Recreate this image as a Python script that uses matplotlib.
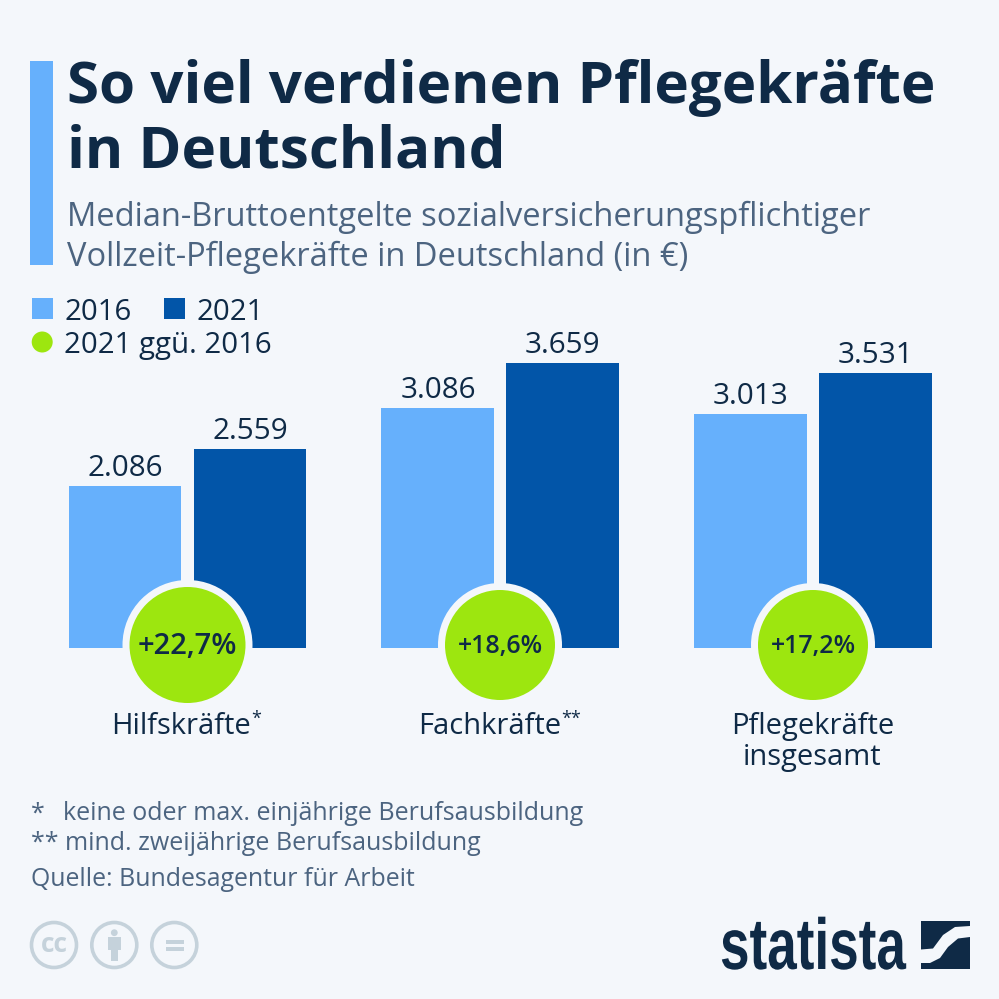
import matplotlib
matplotlib.use("Agg")
import matplotlib.pyplot as plt
from matplotlib.patches import Rectangle, Circle, Polygon
from matplotlib.patheffects import AbstractPathEffect
from matplotlib.transforms import Affine2D

categories = ["Hilfskräfte", "Fachkräfte", "Pflegekräfte\ninsgesamt"]
category_marks = ["*", "**", ""]
values_2016 = [2086, 3086, 3013]
values_2021 = [2559, 3659, 3531]
labels_2016 = ["2.086", "3.086", "3.013"]
labels_2021 = ["2.559", "3.659", "3.531"]
changes = ["+22,7%", "+18,6%", "+17,2%"]

BG = "#f4f7fb"; LIGHT = "#66b0fc"; DARK = "#0255a8"; GREEN = "#9de60f"; NAVY = "#0f2a46"; SLATE = "#4c6480"; ICON = "#c5d2db"
plt.rcParams["font.family"] = ["Open Sans", "DejaVu Sans"]


class Squeeze(AbstractPathEffect):
    """Narrows a real text horizontally, for the condensed logo lettering."""
    def __init__(self, sx):
        super().__init__()
        self.sx = sx

    def draw_path(self, renderer, gc, tpath, affine, rgbFace=None):
        renderer.draw_path(gc, tpath, Affine2D().scale(self.sx, 1) + affine, rgbFace)


fig = plt.figure(figsize=(9.99, 9.99), dpi=100, facecolor=BG)
ax = fig.add_axes([0, 1 - 648 / 999, 1, 400 / 999])
ax.set_xlim(0, 999)
ax.set_ylim(0, 400 * 3659 / 284.5)
ax.axis("off"); ax.patch.set_alpha(0)
centers = [187.5, 500, 813]
offset = 62.5
for i, c in enumerate(centers):
    ax.bar(c - offset, values_2016[i], width=112.5, color=LIGHT)
    ax.bar(c + offset, values_2021[i], width=112.5, color=DARK)
    ax.text(c - offset + 0.5, values_2016[i] + 40, labels_2016[i], ha="center", va="bottom", fontsize=21.3, color=NAVY)
    ax.text(c + offset, values_2021[i] + 40, labels_2021[i], ha="center", va="bottom", fontsize=21.3, color=NAVY)

bg = fig.add_axes([0, 0, 1, 1]); bg.set_xlim(0, 999); bg.set_ylim(999, 0); bg.axis("off"); bg.patch.set_alpha(0)
bg.add_patch(Rectangle((30, 61), 23, 204, fc=LIGHT, ec="none"))
bg.text(67, 88, "So viel verdienen Pflegekräfte", fontsize=42, fontweight="bold", color=NAVY, va="center")
bg.text(67, 153, "in Deutschland", fontsize=42, fontweight="bold", color=NAVY, va="center")
bg.text(67, 217, "Median-Bruttoentgelte sozialversicherungspflichtiger", fontsize=23.5, color=SLATE, va="center")
bg.text(67, 257, "Vollzeit-Pflegekräfte in Deutschland (in €)", fontsize=23.5, color=SLATE, va="center")

bg.add_patch(Rectangle((32, 298), 21, 21, fc=LIGHT, ec="none"))
bg.text(64, 312, "2016", fontsize=21.2, color=NAVY, va="center")
bg.add_patch(Rectangle((164, 298), 21, 21, fc=DARK, ec="none"))
bg.text(197, 312, "2021", fontsize=21.2, color=NAVY, va="center")
bg.add_patch(Circle((42.2, 342), 10.5, fc=GREEN, ec="none"))
bg.text(64, 345, "2021 ggü. 2016", fontsize=21.2, color=NAVY, va="center")

radii = [58, 55, 55]
sizes = [21, 18, 18]
for i, c in enumerate(centers):
    bg.add_patch(Circle((c, 645), radii[i] + 7, fc=BG, ec="none"))
    bg.add_patch(Circle((c, 645), radii[i], fc=GREEN, ec="none"))
    bg.text(c, 647, changes[i], ha="center", va="center", fontsize=sizes[i], fontweight="semibold", color=NAVY)

bg.text(180.5, 726.5, categories[0], ha="center", va="center", fontsize=21, color=NAVY)
bg.text(256, 719, category_marks[0], ha="center", va="center", fontsize=13, color=NAVY)
bg.text(490, 726.5, categories[1], ha="center", va="center", fontsize=21, color=NAVY)
bg.text(571, 719, category_marks[1], ha="center", va="center", fontsize=13, color=NAVY)
line1, line2 = categories[2].split("\n")
bg.text(812.5, 726.5, line1, ha="center", va="center", fontsize=21, color=NAVY)
bg.text(812.5, 758, line2, ha="center", va="center", fontsize=21, color=NAVY)

bg.text(31, 814, "*", fontsize=18, color=SLATE, va="center")
bg.text(63, 814, "keine oder max. einjährige Berufsausbildung", fontsize=18, color=SLATE, va="center")
bg.text(31, 844, "** mind. zweijährige Berufsausbildung", fontsize=18, color=SLATE, va="center")
bg.text(31, 880, "Quelle: Bundesagentur für Arbeit", fontsize=17.9, color=SLATE, va="center")

for cx in [54, 114.3, 174.3]:
    bg.add_patch(Circle((cx, 945), 22.5, fc="none", ec=ICON, lw=2.6))
bg.text(54, 944, "cc", fontsize=19, fontweight="bold", color=ICON, ha="center", va="center")
bg.add_patch(Circle((114.3, 932.7), 3.4, fc=ICON, ec="none"))
bg.add_patch(Rectangle((107.7, 937), 13.3, 13, fc=ICON, ec="none"))
bg.add_patch(Rectangle((110.7, 950), 7.3, 11, fc=ICON, ec="none"))
bg.add_patch(Rectangle((166, 940), 18, 4, fc=ICON, ec="none"))
bg.add_patch(Rectangle((166, 947), 18, 4, fc=ICON, ec="none"))

logo = bg.text(720, 969, "statista", fontsize=52, fontweight="bold", color=NAVY, va="baseline",
               family=["Liberation Sans", "DejaVu Sans"])
logo.set_path_effects([Squeeze(0.735)])
bg.add_patch(Rectangle((921, 921), 49, 48, fc=NAVY, ec="none"))
bg.add_patch(Polygon([(921, 949.5), (933, 948.5), (943, 935), (955, 927), (970, 926),
                      (970, 937), (958, 938.5), (948, 947), (940, 958), (930, 963), (921, 963)],
                     fc=BG, ec="none"))

fig.savefig("out.png", dpi=100, facecolor=BG)
